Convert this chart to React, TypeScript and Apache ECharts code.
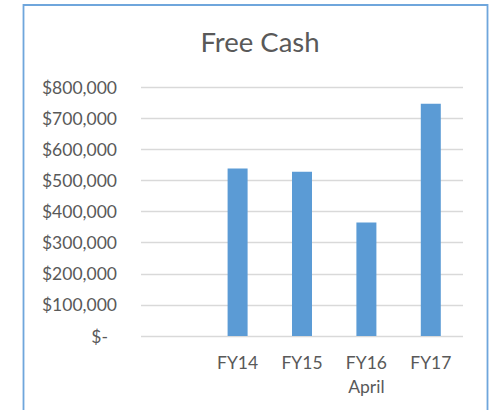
import React, { useEffect, useRef } from "react";
import * as echarts from "echarts";

const categories = ["", "FY14", "FY15", "FY16\nApril", "FY17"];
const freeCash = [null, 538000, 528000, 365000, 746000];
const yTicks = [0, 100000, 200000, 300000, 400000, 500000, 600000, 700000, 800000];
const title = "Free Cash";

const FONT = "Lato, 'Liberation Sans', sans-serif";
const TEXT = "#595959";

function fmt(v: number): string {
  if (v === 0) return "{z|$-}";
  return "$" + v.toLocaleString("en-US");
}

export default function App() {
  const ref = useRef<HTMLDivElement>(null);
  useEffect(() => {
    if (!ref.current) return;
    const chart = echarts.init(ref.current, null, { renderer: "svg" });
    chart.setOption({
      animation: false,
      backgroundColor: "#ffffff",
      title: {
        text: title,
        left: 255,
        top: 22,
        textAlign: "center",
        textStyle: { fontFamily: FONT, fontSize: 27.5, fontWeight: "normal", color: TEXT },
      },
      grid: { left: 141, right: 30, top: 87, bottom: 74, containLabel: false },
      xAxis: {
        type: "category",
        data: categories,
        axisLine: { show: false },
        axisTick: { show: false },
        axisLabel: {
          fontFamily: FONT,
          fontSize: 17.5,
          color: TEXT,
          margin: 14,
          lineHeight: 24,
          interval: 0,
        },
      },
      yAxis: {
        type: "value",
        min: yTicks[0],
        max: yTicks[yTicks.length - 1],
        interval: 100000,
        axisLine: { show: false },
        axisTick: { show: false },
        splitLine: { lineStyle: { color: "#d9d9d9", width: 1.3 } },
        axisLabel: {
          fontFamily: FONT,
          fontSize: 17.5,
          color: TEXT,
          margin: 24,
          formatter: fmt,
          rich: {
            z: { fontFamily: FONT, fontSize: 17.5, color: TEXT, padding: [0, 9, 0, 0] },
          },
        },
      },
      series: [
        {
          type: "bar",
          data: freeCash,
          barWidth: 20,
          itemStyle: { color: "#5b9bd5" },
        },
      ],
      graphic: [
        {
          type: "rect",
          shape: { x: 23.5, y: 5, width: 464, height: 430 },
          style: { fill: "none", stroke: "#6fa6dc", lineWidth: 1.8 },
          silent: true,
        },
      ],
    });
    return () => chart.dispose();
  }, []);
  return (
    <div
      ref={ref}
      style={{ position: "fixed", left: 0, top: 0, width: 493, height: 410 }}
    />
  );
}
